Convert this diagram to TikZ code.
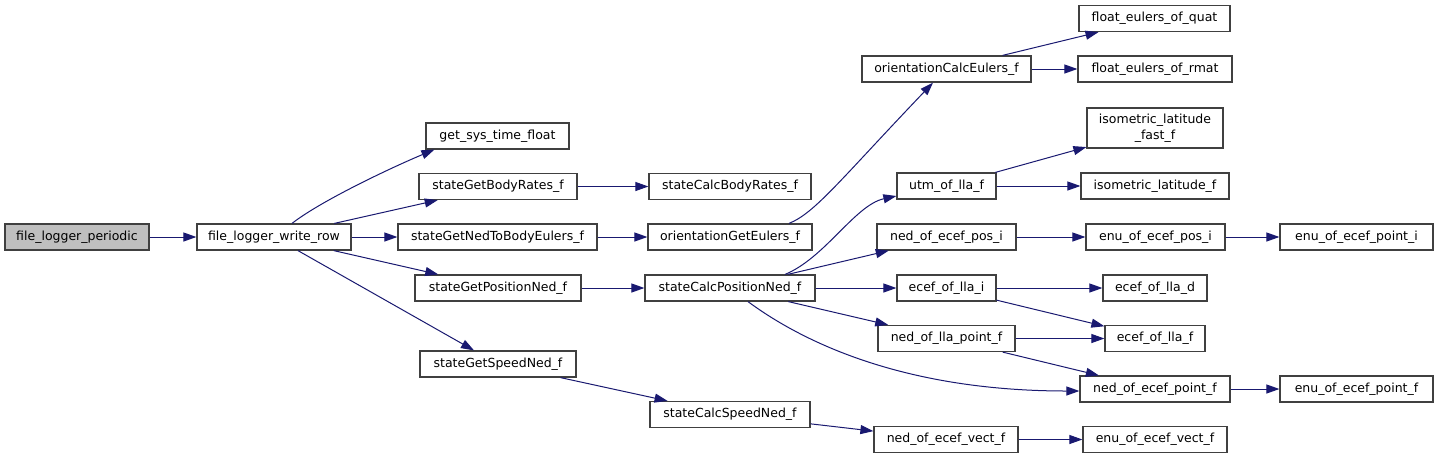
\documentclass[tikz,border=0pt]{standalone}
\usepackage{fontspec}
\setmainfont{DejaVu Sans}
\usetikzlibrary{arrows.meta}
\definecolor{edgeblue}{HTML}{191970}
\definecolor{nodeborder}{HTML}{404040}
\definecolor{rootfill}{HTML}{BFBFBF}
\begin{document}
\begin{tikzpicture}[x=1pt,y=-1pt,
  fn/.style={draw=nodeborder, line width=1.2pt, fill=white, inner sep=0pt,
    minimum height=26pt, text height=9pt, text depth=3pt,
    font=\fontsize{12.5}{16}\selectfont},
  fntwo/.style={draw=nodeborder, line width=1.2pt, fill=white, inner sep=0pt,
    align=center, font=\fontsize{12.5}{16}\selectfont},
  call/.style={draw=edgeblue, line width=1pt, -{Triangle[length=13pt,width=9pt]}}]
\useasboundingbox (0,0) rectangle (1435,459);
% nodes
\node[fn, fill=rootfill, minimum width=144pt] (p) at (77,237) {file\_logger\_periodic};
\node[fn, minimum width=154pt] (wr) at (274,237) {file\_logger\_write\_row};
\node[fn, minimum width=143pt] (gst) at (497.5,136) {get\_sys\_time\_float};
\node[fn, minimum width=158pt] (gbr) at (498,186.5) {stateGetBodyRates\_f};
\node[fn, minimum width=199pt] (gne) at (497.5,237) {stateGetNedToBodyEulers\_f};
\node[fn, minimum width=166pt] (gpn) at (498,288) {stateGetPositionNed\_f};
\node[fn, minimum width=156pt] (gsn) at (498,364) {stateGetSpeedNed\_f};
\node[fn, minimum width=162pt] (cbr) at (730,186.5) {stateCalcBodyRates\_f};
\node[fn, minimum width=164pt] (oge) at (730,237) {orientationGetEulers\_f};
\node[fn, minimum width=170pt] (cpn) at (730,288) {stateCalcPositionNed\_f};
\node[fn, minimum width=160pt] (csn) at (730,414.5) {stateCalcSpeedNed\_f};
\node[fn, minimum width=169pt] (oce) at (946.5,69) {orientationCalcEulers\_f};
\node[fn, minimum width=151pt] (feq) at (1154.5,18.5) {float\_eulers\_of\_quat};
\node[fn, minimum width=154pt] (fer) at (1155,69) {float\_eulers\_of\_rmat};
\node[fn, minimum width=99pt] (utm) at (946.5,186) {utm\_of\_lla\_f};
\node[fntwo, minimum width=136pt, minimum height=40pt] (ilff) at (1155,128) {isometric\_latitude\\\_fast\_f};
\node[fn, minimum width=148pt] (ilf) at (1155,186) {isometric\_latitude\_f};
\node[fn, minimum width=139pt] (nep) at (946.5,237) {ned\_of\_ecef\_pos\_i};
\node[fn, minimum width=139pt] (eep) at (1155.5,237) {enu\_of\_ecef\_pos\_i};
\node[fn, minimum width=153pt] (eepti) at (1356.5,237) {enu\_of\_ecef\_point\_i};
\node[fn, minimum width=99pt] (eli) at (946.5,288) {ecef\_of\_lla\_i};
\node[fn, minimum width=104pt] (eld) at (1155,288) {ecef\_of\_lla\_d};
\node[fn, minimum width=137pt] (nlp) at (946.5,338.5) {ned\_of\_lla\_point\_f};
\node[fn, minimum width=100pt] (elf) at (1155,338.5) {ecef\_of\_lla\_f};
\node[fn, minimum width=150pt] (neop) at (1155,389) {ned\_of\_ecef\_point\_f};
\node[fn, minimum width=153pt] (eepf) at (1356.5,389) {enu\_of\_ecef\_point\_f};
\node[fn, minimum width=144pt] (nev) at (946,439.5) {ned\_of\_ecef\_vect\_f};
\node[fn, minimum width=144pt] (eev) at (1155,439.5) {enu\_of\_ecef\_vect\_f};
% edges
\draw[call] (p) -- (wr);
\draw[call] ([xshift=18pt]wr.north) .. controls (322,200) and (395,166) .. ([xshift=9pt]gst.south west);
\draw[call] (wr) -- (gbr);
\draw[call] (wr) -- (gne);
\draw[call] (wr) -- (gpn);
\draw[call] (wr) -- (gsn);
\draw[call] (gbr) -- (cbr);
\draw[call] (gne) -- (oge);
\draw[call] (gpn) -- (cpn);
\draw[call] (gsn) -- (csn);
\draw[call] ([xshift=59pt]oge.north) .. controls (815,213) and (840,180) .. ([xshift=-13.5pt]oce.south);
\draw[call] (oce) -- (feq);
\draw[call] (oce) -- (fer);
\draw[call] ([xshift=55pt]cpn.north) .. controls (825,258) and (855,205) .. ([yshift=-10pt]utm.west);
\draw[call] (cpn) -- (nep);
\draw[call] (cpn) -- (eli);
\draw[call] (cpn) -- (nlp);
\draw[call] ([xshift=18pt]cpn.south) .. controls (800,340) and (900,391) .. ([yshift=-2pt]neop.west);
\draw[call] (utm) -- (ilff);
\draw[call] (utm) -- (ilf);
\draw[call] (nep) -- (eep);
\draw[call] (eep) -- (eepti);
\draw[call] (eli) -- (eld);
\draw[call] (eli) -- (elf);
\draw[call] (nlp) -- (elf);
\draw[call] (nlp) -- (neop);
\draw[call] (neop) -- (eepf);
\draw[call] (csn) -- (nev);
\draw[call] (nev) -- (eev);
\end{tikzpicture}
\end{document}
